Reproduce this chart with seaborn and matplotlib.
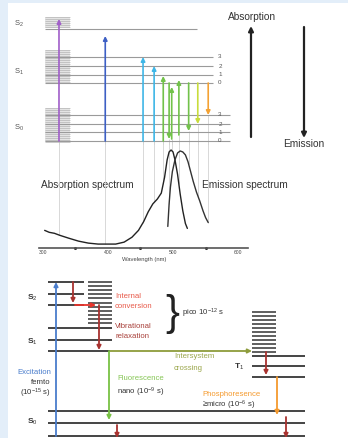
import numpy as np
import pandas as pd
import matplotlib
matplotlib.use("Agg")
import matplotlib.pyplot as plt
import seaborn as sns
from matplotlib.patches import Rectangle

# ---------------- data ----------------
# absorption / emission spectra (wavelength nm, relative intensity)
abs_nm = [303, 310, 318, 326, 340, 355, 370, 385, 399, 412, 425, 437, 447, 455, 462, 469, 476, 482, 487, 491, 494, 497, 500, 503, 507, 511, 515, 519, 522]
abs_int = [0.18, 0.16, 0.15, 0.13, 0.10, 0.07, 0.05, 0.04, 0.04, 0.04, 0.06, 0.11, 0.18, 0.27, 0.37, 0.45, 0.50, 0.56, 0.72, 0.90, 0.98, 1.00, 0.98, 0.90, 0.75, 0.55, 0.38, 0.25, 0.20]
em_nm = [492, 494, 496, 499, 503, 507, 511, 515, 519, 523, 527, 531, 536, 541, 546, 550, 554]
em_int = [0.22, 0.45, 0.62, 0.78, 0.90, 0.97, 0.99, 0.98, 0.95, 0.88, 0.78, 0.68, 0.57, 0.48, 0.38, 0.31, 0.26]
major_ticks = [300, 400, 500, 600]
minor_ticks = [350, 450, 550]

# top energy diagram: transitions (wavelength nm, from level, to level, kind)
tr_nm = [325, 396, 454, 471, 485, 494, 498, 509, 524, 538, 554]
tr_from = [141, 141, 141, 141, 141, 83, 139, 135, 83, 83, 83]
tr_to = [19, 36, 57, 66, 76, 139, 87, 80, 131, 124, 115]
tr_kind = ["abs", "abs", "abs", "abs", "abs", "em", "abs", "abs", "em", "em", "em"]
tr_color = ["#a15fc9", "#3d5fc4", "#3fb6e6", "#3fb6e6", "#72c24a", "#72c24a",
            "#72c24a", "#72c24a", "#72c24a", "#c9dc3c", "#f4a233"]
s2_lines = [28.5]
s1_lines = [57, 66, 75, 83]
s0_lines = [115, 124, 132, 141]
vib_labels = ["3", "2", "1", "0"]

# bottom Jablonski diagram levels (schematic)
j_s2 = [282, 294, 305]
j_s1 = [328, 340, 351]
j_s0 = [411, 423, 436]
j_t1 = [356, 366, 377]

# ---------------- figure ----------------
sns.set_style("white")
plt.rcParams["font.family"] = ["Liberation Sans", "DejaVu Sans"]
plt.rcParams["mathtext.fontset"] = "custom"
plt.rcParams["mathtext.rm"] = "Liberation Sans"
plt.rcParams["mathtext.it"] = "Liberation Sans:italic"
plt.rcParams["mathtext.bf"] = "Liberation Sans:bold"

W, H = 348, 438
fig = plt.figure(figsize=(W / 100, H / 100), dpi=100)
fig.patch.set_facecolor("#e3eef9")

bg = fig.add_axes([0, 0, 1, 1])
bg.set_xlim(0, W)
bg.set_ylim(H, 0)
bg.axis("off")
bg.add_patch(Rectangle((8, 3), W - 8, H - 3, facecolor="white", edgecolor="none"))

px_per_nm = 0.6516
x0_px = 42.7
xl = (295, 615)
def nm2px(v):
    return x0_px + (v - 300) * px_per_nm
ax_left = nm2px(xl[0]) / W
ax_w = (nm2px(xl[1]) - nm2px(xl[0])) / W

# --------- spectrum axes ----------
ax_s = fig.add_axes([ax_left, 1 - 248 / H, ax_w, (248 - 140) / H])
ax_s.set_facecolor("none")
ax_s.set_xlim(*xl)
ax_s.set_ylim(0, 1.102)
df_a = pd.DataFrame({"nm": abs_nm, "I": abs_int})
df_e = pd.DataFrame({"nm": em_nm, "I": em_int})
sns.lineplot(data=df_a, x="nm", y="I", ax=ax_s, color="#222222", lw=1.0, estimator=None, sort=False)
sns.lineplot(data=df_e, x="nm", y="I", ax=ax_s, color="#333333", lw=1.0, estimator=None, sort=False)
for w, k in zip(tr_nm, tr_kind):
    if k == "abs":
        v = np.interp(w, abs_nm, abs_int)
    else:
        v = np.interp(w, em_nm, em_int)
    ax_s.vlines(w, v, 1.102, color="#d2d2d2", lw=0.6, zorder=0)
for s in ["top", "right", "left"]:
    ax_s.spines[s].set_visible(False)
ax_s.spines["bottom"].set_color("#555555")
ax_s.spines["bottom"].set_linewidth(1.2)
ax_s.set_xticks(major_ticks)
ax_s.set_xticklabels([str(t) for t in major_ticks], fontsize=3.6, color="#444444")
ax_s.tick_params(axis="x", direction="in", length=2.5, width=0.6, pad=1.5, color="#444444")
ax_s.set_yticks([])
ax_s.set_xlabel("Wavelength (nm)", fontsize=4.2, color="#444444", labelpad=1.5)
ax_s.set_ylabel("")
ax_s.plot(minor_ticks, [0.0] * len(minor_ticks), "o", ms=1.2, color="#333333", clip_on=False)

# --------- top energy axes ----------
ax_e = fig.add_axes([ax_left, 1 - 145 / H, ax_w, 145 / H])
ax_e.set_facecolor("none")
ax_e.set_xlim(*xl)
ax_e.set_ylim(145, 0)
ax_e.axis("off")
blk_l, blk_r = 303.5, 342
for (ytop, ybot) in [(17, 28), (50, 82), (108, 142)]:
    ax_e.add_patch(Rectangle((blk_l, ytop), blk_r - blk_l, ybot - ytop,
                             facecolor="#e4e4e4", edgecolor="none", zorder=1))
    ax_e.hlines(np.arange(ytop, ybot + 0.1, 2.0), blk_l, blk_r, color="#b0b0b0", lw=0.45, zorder=1)
ax_e.hlines(s2_lines, blk_l, 537, color="#9a9a9a", lw=0.8, zorder=1)
ax_e.hlines(s1_lines, blk_l, 562, color="#9a9a9a", lw=0.8, zorder=1)
ax_e.hlines(s0_lines, blk_l, 588, color="#9a9a9a", lw=0.8, zorder=1)
for y, t in zip(s1_lines, vib_labels):
    ax_e.text(572, y, t, fontsize=4.5, color="#555555", ha="center", va="center")
for y, t in zip(s0_lines, vib_labels):
    ax_e.text(572, y, t, fontsize=4.5, color="#555555", ha="center", va="center")
for w, a, b, c in zip(tr_nm, tr_from, tr_to, tr_color):
    ax_e.vlines(w, max(a, b), 145, color="#d2d2d2", lw=0.6, zorder=0)
    ax_e.annotate("", xy=(w, b), xytext=(w, a),
                  arrowprops=dict(arrowstyle="-|>", color=c, lw=1.2,
                                  mutation_scale=6, shrinkA=0, shrinkB=0), zorder=3)

# labels of top diagram
for y, t in zip([24, 72, 128], ["S$_2$", "S$_1$", "S$_0$"]):
    bg.text(19, y, t, fontsize=5.5, color="#555555", ha="center", va="center")
bg.text(252, 17, "Absorption", fontsize=7.3, color="#333333", ha="center", va="center")
bg.text(304, 144, "Emission", fontsize=7.3, color="#333333", ha="center", va="center")
bg.annotate("", xy=(251, 26), xytext=(251, 137),
            arrowprops=dict(arrowstyle="-|>", color="#222222", lw=1.6, mutation_scale=7, shrinkA=0, shrinkB=0))
bg.annotate("", xy=(304, 138), xytext=(304, 27),
            arrowprops=dict(arrowstyle="-|>", color="#222222", lw=1.6, mutation_scale=7, shrinkA=0, shrinkB=0))
bg.text(87, 185, "Absorption spectrum", fontsize=7.3, color="#333333", ha="center", va="center")
bg.text(245, 185, "Emission spectrum", fontsize=7.3, color="#333333", ha="center", va="center")

# --------- bottom Jablonski diagram ----------
lc = "#444444"
bg.hlines(j_s2, 48, 84, color=lc, lw=1.4)
bg.hlines(j_s1[:2], 48, 112, color=lc, lw=1.4)
bg.hlines(j_s1[2], 48, 110, color=lc, lw=1.4)
bg.hlines(np.arange(282, 327, 4.1), 88, 112, color=lc, lw=1.2)
bg.hlines(j_s0, 48, 305, color=lc, lw=1.4)
bg.hlines(j_t1, 252, 305, color=lc, lw=1.4)
bg.hlines(np.arange(312, 353, 4.0), 252, 276, color=lc, lw=1.2)

def arr(x1, y1, x2, y2, c, lw=1.3, ms=6):
    bg.annotate("", xy=(x2, y2), xytext=(x1, y1),
                arrowprops=dict(arrowstyle="-|>", color=c, lw=lw, mutation_scale=ms,
                                shrinkA=0, shrinkB=0))

arr(56, j_s0[2], 56, j_s2[0], "#4a7dcc")
arr(73, j_s2[0], 73, 303, "#a8322f")
arr(75, j_s2[2], 96, j_s2[2], "#e8332a")
arr(99, j_s2[2], 99, 350, "#a8322f")
arr(110, j_s1[2], 252, j_s1[2], "#8e9c3c")
arr(109, j_s1[2], 109, 420, "#78c244")
arr(266, 352, 266, 375, "#a8322f")
arr(277, j_t1[2], 277, 415, "#f59a2e")
arr(117, 425, 117, 438, "#a8322f")
arr(286, 417, 286, 438, "#a8322f")

fs = 5.6
bg.text(32, 298, "S$_2$", fontsize=6, color="#333333", ha="center", va="center", fontweight="bold")
bg.text(32, 342, "S$_1$", fontsize=6, color="#333333", ha="center", va="center", fontweight="bold")
bg.text(32, 422, "S$_0$", fontsize=6, color="#333333", ha="center", va="center", fontweight="bold")
bg.text(239, 367, "T$_1$", fontsize=6, color="#333333", ha="center", va="center", fontweight="bold")
bg.text(115, 296, "Internal", fontsize=fs, color="#e85a4a", va="center")
bg.text(115, 307, "conversion", fontsize=fs, color="#e85a4a", va="center")
bg.text(115, 326, "Vibrational", fontsize=fs, color="#a8403a", va="center")
bg.text(115, 336, "relaxation", fontsize=fs, color="#a8403a", va="center")
bg.text(172, 314, "}", fontsize=30, color="#222222", ha="center", va="center", fontweight="light")
bg.text(182, 313, "pico 10$^{-12}$ s", fontsize=fs, color="#333333", va="center")
bg.text(174, 357, "Intersystem", fontsize=fs, color="#9aa64a", va="center")
bg.text(174, 368, "crossing", fontsize=fs, color="#9aa64a", va="center")
bg.text(117, 379, "Fluorescence", fontsize=fs, color="#86c655", va="center")
bg.text(117, 392, "nano (10$^{-9}$ s)", fontsize=fs, color="#333333", va="center")
bg.text(51, 372, "Excitation", fontsize=fs, color="#4a7dcc", ha="right", va="center")
bg.text(51, 382, "femto", fontsize=fs, color="#333333", ha="right", va="center")
bg.text(51, 393, "(10$^{-15}$ s)", fontsize=fs, color="#333333", ha="right", va="center")
bg.text(202, 395, "Phosphoresence", fontsize=fs, color="#f59a2e", va="center")
bg.text(202, 405, "\u2265micro (10$^{-6}$ s)", fontsize=fs, color="#333333", va="center")

fig.savefig("out.png", dpi=100, facecolor=fig.get_facecolor())
